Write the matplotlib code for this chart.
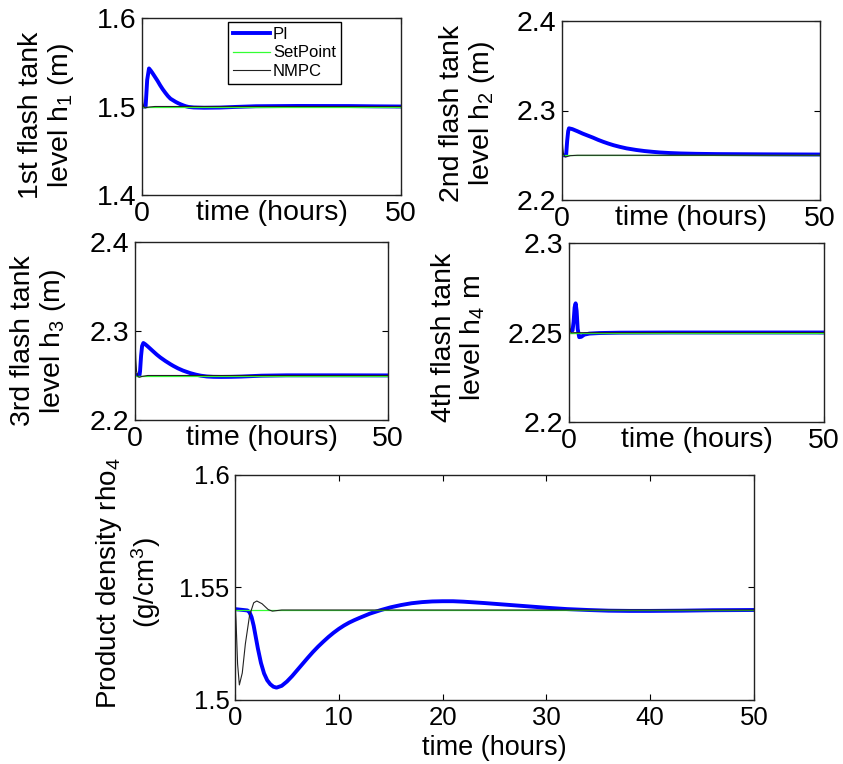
import matplotlib
matplotlib.use("Agg")
import matplotlib.pyplot as plt

plt.rcParams['font.family'] = ['Liberation Sans', 'DejaVu Sans']
plt.rcParams['mathtext.fontset'] = 'custom'
plt.rcParams['mathtext.rm'] = 'Liberation Sans'
plt.rcParams['mathtext.default'] = 'regular'

# ---- data ----
# 1st flash tank level h1
t_pi1 = [0, 0.7, 1.0, 1.35, 1.7, 2.0, 2.5, 3.0, 3.5, 4.0, 4.5, 5.0, 5.5, 6.0, 6.5, 7.0, 7.5,
         8.0, 8.5, 9.0, 10, 12, 15, 18, 22, 30, 40, 45, 50]
pi1 = [1.500, 1.500, 1.530, 1.543, 1.5405, 1.538, 1.5335, 1.529, 1.524, 1.5195, 1.5155, 1.5118,
       1.5088, 1.507, 1.5052, 1.5037, 1.5024, 1.5012, 1.5002, 1.4995, 1.4989, 1.4986, 1.4988,
       1.4995, 1.5003, 1.5006, 1.5005, 1.5002, 1.500]
t_nm1 = [0, 0.05, 0.15, 0.3, 0.6, 1.0, 1.5, 2.5, 4, 50]
nm1 = [1.46, 1.519, 1.505, 1.500, 1.4985, 1.499, 1.4995, 1.500, 1.500, 1.500]
sp1 = 1.5

# 2nd flash tank level h2
t_pi2 = [0, 0.8, 1.0, 1.2, 1.35, 2, 3, 4, 4.8, 6, 7, 8, 9, 10, 11.2, 12.5, 14.4, 16, 17.6, 19,
         20.8, 23, 26, 30, 40, 50]
pi2 = [2.250, 2.250, 2.266, 2.277, 2.2801, 2.2792, 2.2768, 2.2742, 2.2724, 2.2697, 2.2672,
       2.265, 2.263, 2.2612, 2.2594, 2.2577, 2.2559, 2.2547, 2.2538, 2.2531, 2.2525, 2.252,
       2.2516, 2.2513, 2.251, 2.2508]
t_nm2 = [0, 0.05, 0.15, 0.3, 0.6, 1.0, 1.6, 3, 50]
nm2 = [2.237, 2.266, 2.258, 2.251, 2.248, 2.2485, 2.2495, 2.250, 2.250]
sp2 = 2.25

# 3rd flash tank level h3
t_pi3 = [0, 0.9, 1.0, 1.2, 1.4, 1.65, 2.0, 2.5, 3.0, 3.5, 4.3, 5.0, 6.0, 7.0, 7.6, 8.5, 9.5,
         10.9, 12, 13, 14.2, 15.5, 17, 19, 21, 23, 25, 30, 40, 50]
pi3 = [2.2505, 2.2505, 2.255, 2.272, 2.283, 2.2865, 2.2852, 2.2828, 2.2802, 2.2776, 2.2735,
       2.2703, 2.2663, 2.2627, 2.2607, 2.258, 2.2555, 2.2527, 2.251, 2.2498, 2.2489, 2.2485,
       2.2484, 2.2485, 2.2488, 2.2493, 2.2498, 2.2502, 2.2502, 2.2501]
t_nm3 = [0, 0.05, 0.15, 0.3, 0.6, 0.9, 1.4, 2.5, 50]
nm3 = [2.252, 2.284, 2.268, 2.255, 2.2485, 2.248, 2.249, 2.250, 2.250]
sp3 = 2.25

# 4th flash tank level h4
t_pi4 = [0, 0.7, 0.9, 1.1, 1.3, 1.5, 1.7, 2.0, 2.4, 3.0, 4.0, 6, 10, 20, 30, 50]
pi4 = [2.2512, 2.2512, 2.256, 2.264, 2.2663, 2.262, 2.252, 2.2474, 2.2476, 2.2488, 2.2494,
       2.2497, 2.2499, 2.2500, 2.2500, 2.2500]
t_nm4 = [0, 0.04, 0.12, 0.25, 0.5, 1.0, 50]
nm4 = [2.2495, 2.2673, 2.258, 2.2505, 2.2498, 2.2499, 2.250]
sp4 = 2.25

# product density rho4
t_pi5 = [0, 0.6, 1.2, 1.4, 1.6, 1.8, 2.0, 2.2, 2.5, 2.8, 3.1, 3.4, 3.7, 4.0, 4.5, 5.0, 5.5,
         6.0, 6.5, 7.0, 7.5, 8.0, 8.5, 9.0, 9.5, 10, 10.5, 11, 11.5, 12, 13, 14, 15, 16, 17,
         18, 19, 20, 21, 22, 23, 24, 26, 28, 30, 32, 34, 36, 38, 40, 43, 46, 50]
pi5 = [1.5404, 1.5401, 1.5398, 1.5390, 1.5368, 1.5330, 1.5280, 1.5230, 1.5165, 1.5118,
       1.5088, 1.5070, 1.5059, 1.5055, 1.5063, 1.5082, 1.5106, 1.5133, 1.5160, 1.5187,
       1.5213, 1.5237, 1.5259, 1.5280, 1.5299, 1.5316, 1.5331, 1.5344, 1.5355, 1.5365,
       1.5384, 1.5399, 1.5412, 1.5422, 1.5430, 1.5435, 1.5438, 1.5439, 1.5439, 1.5437,
       1.5434, 1.5431, 1.5424, 1.5417, 1.5410, 1.5404, 1.5400, 1.5397, 1.5396, 1.5396,
       1.5397, 1.5399, 1.5400]
t_nm5 = [0, 0.1, 0.25, 0.42, 0.7, 1.0, 1.4, 1.8, 2.1, 2.6, 3.2, 3.6, 4.5, 50]
nm5 = [1.5444, 1.535, 1.516, 1.5067, 1.512, 1.525, 1.5375, 1.5432, 1.544, 1.5428, 1.5402,
       1.5395, 1.540, 1.540]
sp5 = 1.54

t_end = 50
ylabels = ['1st flash tank\nlevel h$_1$ (m)', '2nd flash tank\nlevel h$_2$ (m)',
           '3rd flash tank\nlevel h$_3$ (m)', '4th flash tank\nlevel h$_4$ m',
           'Product density rho$_4$\n(g/cm$^3$)']
yticks = [[1.4, 1.5, 1.6], [2.2, 2.3, 2.4], [2.2, 2.3, 2.4], [2.2, 2.25, 2.3], [1.5, 1.55, 1.6]]
yticklabels = [['1.4', '1.5', '1.6'], ['2.2', '2.3', '2.4'], ['2.2', '2.3', '2.4'],
               ['2.2', '2.25', '2.3'], ['1.5', '1.55', '1.6']]
xticks_small = [0, 50]
xticks_big = [0, 10, 20, 30, 40, 50]

W, H = 843, 764
fig = plt.figure(figsize=(W / 100, H / 100), dpi=100)

def px_axes(l, r, t, b):
    return fig.add_axes([l / W, 1 - b / H, (r - l) / W, (b - t) / H])

# pixel boxes (left, right, top, bottom)
boxes = [(142, 401, 18, 195), (562, 820, 21, 200), (135, 388, 242, 420),
         (569, 824, 243, 422), (235, 754, 475, 700)]
ylab_pos = [(-0.367, 0.45), (-0.364, 0.486), (-0.38, 0.444), (-0.431, 0.472), (-0.205, 0.52)]

series = [(t_pi1, pi1, t_nm1, nm1, sp1), (t_pi2, pi2, t_nm2, nm2, sp2),
          (t_pi3, pi3, t_nm3, nm3, sp3), (t_pi4, pi4, t_nm4, nm4, sp4),
          (t_pi5, pi5, t_nm5, nm5, sp5)]

blue = '#0000ff'
green = '#33ff33'
black = '#222222'

for i, (box, (tp, yp, tn, yn, sp)) in enumerate(zip(boxes, series)):
    ax = px_axes(*box)
    fs = 20.5 if i < 4 else 18.5
    ax.plot(tp, yp, color=blue, lw=2.8, label='PI')
    ax.plot([0, t_end], [sp, sp], color=green, lw=0.9, label='SetPoint')
    ax.plot(tn, yn, color=black, lw=0.8, label='NMPC')
    ax.set_xlim(0, t_end)
    ax.set_ylim(yticks[i][0], yticks[i][-1])
    ax.set_yticks(yticks[i])
    ax.set_yticklabels(yticklabels[i])
    if i < 4:
        ax.set_xticks(xticks_small)
        ax.set_xticklabels([str(v) for v in xticks_small])
        ax.set_xlabel('time (hours)', fontsize=fs)
        ax.xaxis.set_label_coords(0.5, -0.028)
        ax.set_ylabel(ylabels[i], fontsize=fs, linespacing=1.1)
    else:
        ax.set_xticks(xticks_big)
        ax.set_xticklabels([str(v) for v in xticks_big])
        ax.set_xlabel('time (hours)', fontsize=19.5)
        ax.xaxis.set_label_coords(0.5, -0.155)
        ax.set_ylabel(ylabels[i], fontsize=20, linespacing=1.2)
    ax.tick_params(direction='in', length=4, width=0.8, top=True, right=True,
                   labelsize=fs, pad=4)
    for s in ax.spines.values():
        s.set_linewidth(1.0)
        s.set_color('#222222')
    ax.yaxis.label.set_va('center')
    ax.yaxis.set_label_coords(*ylab_pos[i])
    if i == 0:
        ax.legend(loc='upper left', bbox_to_anchor=(0.332, 0.977), borderaxespad=0,
                  fancybox=False, edgecolor='black', framealpha=1, fontsize=12,
                  handlelength=2.2, handletextpad=0.2, labelspacing=0.2, borderpad=0.3)

fig.savefig('out.png', dpi=100)
